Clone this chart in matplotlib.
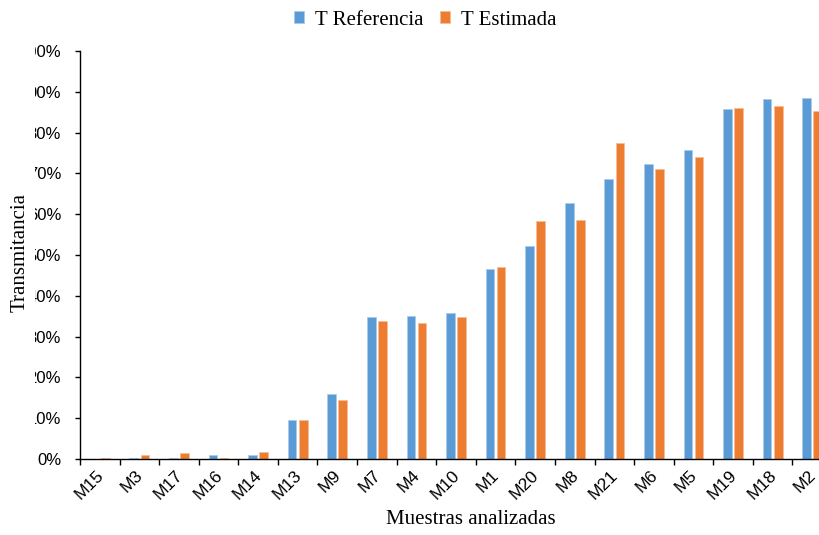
import numpy as np
import matplotlib.pyplot as plt
from matplotlib.ticker import FuncFormatter, FixedLocator
from matplotlib.transforms import Bbox, TransformedBbox

muestras = ['M15', 'M3', 'M17', 'M16', 'M14', 'M13', 'M9', 'M7', 'M4', 'M10',
            'M1', 'M20', 'M8', 'M21', 'M6', 'M5', 'M19', 'M18', 'M2']
t_ref = [0.0, 0.3, 0.3, 1.0, 1.05, 9.6, 15.9, 34.8, 35.0, 35.8,
         46.6, 52.2, 62.7, 68.6, 72.3, 75.7, 85.8, 88.3, 88.5]
t_est = [0.2, 1.05, 1.4, 0.3, 1.8, 9.5, 14.5, 33.8, 33.3, 34.8,
         47.1, 58.3, 58.6, 77.5, 71.0, 73.9, 86.0, 86.5, 85.3]

blue = '#5B9BD5'
orange = '#ED7D31'

fig = plt.figure(figsize=(8.2, 5.35), dpi=100)
ax = fig.add_axes([80/820, 76/535, 752/820, 408/535])

x = np.arange(len(muestras))
w = 0.22
ax.bar(x - 0.14, t_ref, w, color=blue, edgecolor='#A9CBEA', linewidth=0.6, label='T Referencia')
ax.bar(x + 0.14, t_est, w, color=orange, edgecolor='#F6BE98', linewidth=0.6, label='T Estimada')

ax.set_xlim(-0.5, len(muestras) - 0.5)
ax.set_ylim(0, 100)
ax.yaxis.set_major_locator(FixedLocator(np.arange(0, 101, 10)))
ax.yaxis.set_major_formatter(FuncFormatter(lambda v, p: f'{v:.0f}%'))

# category boundaries get the tick marks, centres get the labels
ax.xaxis.set_major_locator(FixedLocator(np.arange(-0.5, len(muestras), 1.0)))
ax.xaxis.set_major_formatter(FuncFormatter(lambda v, p: ''))
ax.xaxis.set_minor_locator(FixedLocator(x - 0.1))
ax.set_xticklabels(muestras, minor=True, rotation=45, ha='right', va='top',
                   rotation_mode='anchor', fontsize=12.5, family='Liberation Sans')
ax.tick_params(axis='x', which='minor', length=0, pad=6)
ax.tick_params(axis='x', which='major', length=4.3, width=1)
ax.tick_params(axis='y', length=3.6, width=1, labelsize=12, pad=10)

# the source image is cropped on the left, cutting into the y tick labels
clip = TransformedBbox(Bbox([[35/820, 0], [80/820, 1]]), fig.transFigure)
for t in ax.yaxis.get_major_ticks():
    t.label1.set_family('Liberation Sans')
    t.label1.set_clip_box(clip)
    t.label1.set_clip_on(True)

for s in ['top', 'right']:
    ax.spines[s].set_visible(False)
for s in ['left', 'bottom']:
    ax.spines[s].set_linewidth(1)

ax.set_ylabel('Transmitancia', family='Liberation Serif', fontsize=15)
ax.yaxis.set_label_coords(-50 / 752, 0.507)
ax.set_xlabel('Muestras analizadas', family='Liberation Serif', fontsize=15)
ax.xaxis.set_label_coords((471 - 80) / 752, -51 / 408)

fig.legend(loc='center', bbox_to_anchor=(425/820, 1 - 20/535), ncol=2, frameon=False,
           prop={'family': 'Liberation Serif', 'size': 15}, handlelength=0.5,
           handleheight=0.5, handletextpad=0.5, columnspacing=0.8)

fig.savefig('out.png', dpi=100)
